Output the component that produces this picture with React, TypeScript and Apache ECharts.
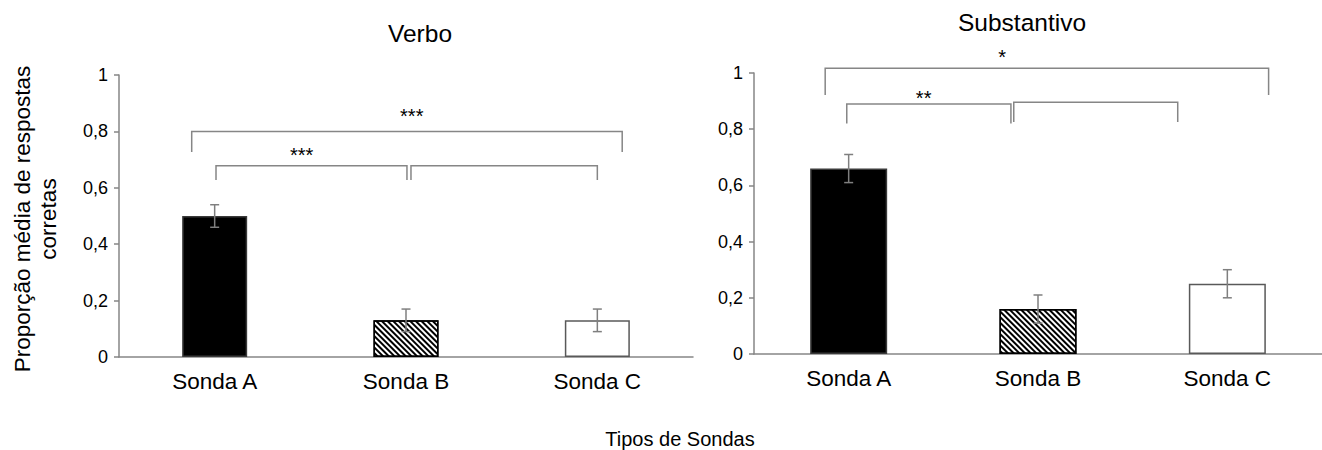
import React, { useEffect, useRef } from "react";
import * as echarts from "echarts";

const categories = ["Sonda A", "Sonda B", "Sonda C"];
const yTickValues = [0, 0.2, 0.4, 0.6, 0.8, 1];
const yTickLabels = ["0", "0,2", "0,4", "0,6", "0,8", "1"];

const verboMeans = [0.5, 0.13, 0.13];
const verboErrors = [0.04, 0.04, 0.04];
const substantivoMeans = [0.66, 0.16, 0.25];
const substantivoErrors = [0.05, 0.05, 0.05];

// significance brackets: [xStart, xEnd, yTop, yLegEnd] (category index units, value units)
const verboBrackets = [
  [-0.12, 2.13, 0.8, 0.727],
  [0.007, 1.005, 0.678, 0.628],
  [1.026, 2.0, 0.678, 0.628],
];
const verboStarPos = [
  [1.03, 0.864],
  [0.455, 0.728],
];
const verboStarLabels = ["***", "***"];

const substantivoBrackets = [
  [-0.124, 2.218, 1.017, 0.922],
  [-0.01, 0.857, 0.89, 0.82],
  [0.872, 1.738, 0.896, 0.826],
];
const substantivoStarPos = [
  [0.81, 1.066],
  [0.396, 0.923],
];
const substantivoStarLabels = ["*", "**"];

const FONT = "'Liberation Sans', Arial, sans-serif";
const AXIS_COLOR = "#868686";
const ERR_COLOR = "#7f7f7f";

const barStyles = [
  { color: "#000000", borderColor: "#3a3a3a", borderWidth: 1.5 },
  {
    color: "#ffffff",
    borderColor: "#000000",
    borderWidth: 1.5,
    decal: {
      symbol: "rect",
      symbolSize: 1,
      color: "#000000",
      backgroundColor: "#ffffff",
      dashArrayX: [1, 0],
      dashArrayY: [1.7, 1.3],
      rotation: Math.PI / 4,
    },
  },
  { color: "#ffffff", borderColor: "#595959", borderWidth: 1.5 },
];

function formatTick(v: number): string {
  const idx = yTickValues.findIndex((t) => Math.abs(t - v) < 1e-6);
  return idx >= 0 ? yTickLabels[idx] : String(v).replace(".", ",");
}

function makeAxes(gridIndex: number) {
  const x = {
    type: "category",
    gridIndex,
    data: categories,
    axisLine: { lineStyle: { color: AXIS_COLOR, width: 1.5 } },
    axisTick: { show: false },
    axisLabel: { color: "#000", fontSize: 22.5, fontFamily: FONT, margin: 13 },
  };
  const y = {
    type: "value",
    gridIndex,
    min: 0,
    max: 1,
    interval: 0.2,
    splitLine: { show: false },
    axisLine: { show: true, lineStyle: { color: AXIS_COLOR, width: 1.5 } },
    axisTick: { show: true, length: 5, lineStyle: { color: AXIS_COLOR, width: 1.5 } },
    axisLabel: {
      color: "#000",
      fontSize: 18,
      fontFamily: FONT,
      margin: 11,
      formatter: formatTick,
    },
  };
  return { x, y };
}

function makeSeries(
  idx: number,
  means: number[],
  errors: number[],
  brackets: number[][],
  starPos: number[][],
  starLabels: string[],
  barWidth: number
) {
  const bar = {
    type: "bar",
    xAxisIndex: idx,
    yAxisIndex: idx,
    barWidth,
    data: means.map((m, i) => ({ value: m, itemStyle: barStyles[i] })),
    silent: true,
  };
  const err = {
    type: "custom",
    xAxisIndex: idx,
    yAxisIndex: idx,
    z: 5,
    silent: true,
    clip: false,
    data: means.map((m, i) => [i, m, errors[i]]),
    encode: { x: 0, y: 1 },
    renderItem: (params: any, api: any) => {
      const xi = api.value(0);
      const m = api.value(1);
      const e = api.value(2);
      const top = api.coord([xi, m + e]);
      const bot = api.coord([xi, m - e]);
      const hw = 4.5;
      const style = { stroke: ERR_COLOR, lineWidth: 1.5 };
      return {
        type: "group",
        children: [
          { type: "line", shape: { x1: top[0], y1: top[1], x2: bot[0], y2: bot[1] }, style },
          { type: "line", shape: { x1: top[0] - hw, y1: top[1], x2: top[0] + hw, y2: top[1] }, style },
          { type: "line", shape: { x1: bot[0] - hw, y1: bot[1], x2: bot[0] + hw, y2: bot[1] }, style },
        ],
      };
    },
  };
  const br = {
    type: "custom",
    xAxisIndex: idx,
    yAxisIndex: idx,
    z: 6,
    silent: true,
    clip: false,
    data: brackets.map((b) => [b[0], b[2], b[1], b[3]]),
    encode: { x: 0, y: 1 },
    renderItem: (params: any, api: any) => {
      const x1c = api.value(0);
      const yTop = api.value(1);
      const x2c = api.value(2);
      const yLeg = api.value(3);
      const base = api.coord([0, yTop]);
      const band = api.size([1, 0])[0];
      const legY = api.coord([0, yLeg])[1];
      const xa = base[0] + x1c * band;
      const xb = base[0] + x2c * band;
      const yt = base[1];
      return {
        type: "polyline",
        shape: { points: [[xa, legY], [xa, yt], [xb, yt], [xb, legY]] },
        style: { stroke: AXIS_COLOR, lineWidth: 1.5, fill: null },
      };
    },
  };
  const stars = {
    type: "custom",
    xAxisIndex: idx,
    yAxisIndex: idx,
    z: 7,
    silent: true,
    clip: false,
    data: starPos.map((p) => [p[0], p[1]]),
    encode: { x: 0, y: 1 },
    renderItem: (params: any, api: any) => {
      const xc = api.value(0);
      const yv = api.value(1);
      const base = api.coord([0, yv]);
      const band = api.size([1, 0])[0];
      return {
        type: "text",
        x: base[0] + xc * band,
        y: base[1] + 3,
        style: {
          text: starLabels[params.dataIndex],
          fontSize: 20,
          fontFamily: FONT,
          fill: "#000",
          align: "center",
          verticalAlign: "middle",
        },
      };
    },
  };
  return [bar, err, br, stars];
}

export default function App() {
  const ref = useRef<HTMLDivElement>(null);
  useEffect(() => {
    if (!ref.current) return;
    const chart = echarts.init(ref.current, null, { renderer: "svg" });
    const a0 = makeAxes(0);
    const a1 = makeAxes(1);
    const option: any = {
      animation: false,
      backgroundColor: "#ffffff",
      grid: [
        { left: 119, top: 75, width: 574, height: 282 },
        { left: 754, top: 73, width: 575, height: 281 },
      ],
      xAxis: [a0.x, a1.x],
      yAxis: [a0.y, a1.y],
      series: [
        ...makeSeries(0, verboMeans, verboErrors, verboBrackets, verboStarPos, verboStarLabels, 65),
        ...makeSeries(
          1,
          substantivoMeans,
          substantivoErrors,
          substantivoBrackets,
          substantivoStarPos,
          substantivoStarLabels,
          77
        ),
      ],
      graphic: [
        {
          type: "text",
          x: 420,
          y: 33,
          style: {
            text: "Verbo",
            fontSize: 24.5,
            fontFamily: FONT,
            fill: "#000",
            align: "center",
            verticalAlign: "middle",
          },
        },
        {
          type: "text",
          x: 1022,
          y: 22,
          style: {
            text: "Substantivo",
            fontSize: 24.5,
            fontFamily: FONT,
            fill: "#000",
            align: "center",
            verticalAlign: "middle",
          },
        },
        {
          type: "text",
          x: 35,
          y: 219,
          rotation: Math.PI / 2,
          style: {
            text: "Proporção média de respostas\ncorretas",
            fontSize: 22.5,
            lineHeight: 26,
            fontFamily: FONT,
            fill: "#000",
            align: "center",
            verticalAlign: "middle",
          },
        },
        {
          type: "text",
          x: 680,
          y: 439,
          style: {
            text: "Tipos de Sondas",
            fontSize: 20,
            fontFamily: FONT,
            fill: "#000",
            align: "center",
            verticalAlign: "middle",
          },
        },
      ],
    };
    chart.setOption(option);
    return () => chart.dispose();
  }, []);
  return (
    <div
      ref={ref}
      style={{ position: "absolute", left: 0, top: 0, width: 1322, height: 450, background: "#fff" }}
    />
  );
}
